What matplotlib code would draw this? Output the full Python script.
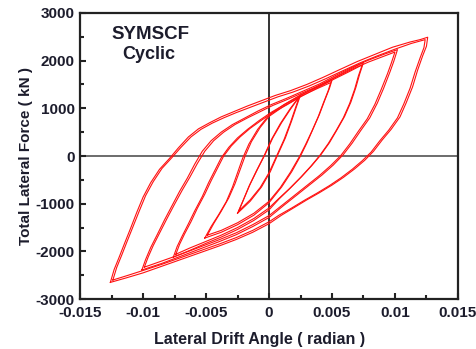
import numpy as np
import matplotlib.pyplot as plt
from matplotlib.ticker import MultipleLocator

plt.rcParams['font.family'] = ['Liberation Sans', 'DejaVu Sans']
plt.rcParams['axes.unicode_minus'] = False

# Hysteresis loops, drift in mrad, force in kN.
# Each loop: upward branch from the negative peak, then downward branch back.
loop_a1 = [(-2.5, -1200), (-2.1, -960), (-1.6, -640), (-1.0, -310), (-0.4, 0),
           (0.2, 350), (0.9, 680), (1.7, 1000), (2.5, 1280),
           (2.2, 1050), (1.8, 740), (1.3, 380), (0.7, 30), (0.1, -330),
           (-0.6, -650), (-1.5, -950), (-2.5, -1200)]
loop_a2 = [(-2.4, -1150), (-2.0, -900), (-1.5, -590), (-0.9, -270), (-0.3, 40),
           (0.3, 380), (1.0, 700), (1.7, 980), (2.4, 1240),
           (2.1, 1010), (1.7, 700), (1.2, 350), (0.6, 0), (0.0, -350),
           (-0.7, -660), (-1.5, -920), (-2.4, -1150)]

loop_b1 = [(-5.1, -1720), (-4.6, -1480), (-4.0, -1230), (-3.4, -960), (-2.9, -650),
           (-2.5, -350), (-2.1, -50), (-1.6, 250), (-0.9, 560), (0.0, 860),
           (1.2, 1080), (2.5, 1280), (3.8, 1440), (5.0, 1590),
           (4.8, 1420), (4.4, 1150), (4.0, 870), (3.5, 570), (3.0, 270), (2.5, 0),
           (1.8, -330), (1.0, -650), (0.0, -980), (-1.2, -1240), (-2.5, -1440),
           (-3.8, -1600), (-5.1, -1720)]
loop_b2 = [(-4.9, -1660), (-4.4, -1420), (-3.8, -1160), (-3.2, -880), (-2.7, -580),
           (-2.3, -290), (-1.9, 0), (-1.4, 300), (-0.7, 600), (0.0, 830),
           (1.2, 1050), (2.5, 1250), (3.8, 1410), (4.9, 1540),
           (4.7, 1370), (4.3, 1100), (3.9, 820), (3.4, 520), (2.9, 240), (2.4, -20),
           (1.7, -340), (0.9, -660), (0.0, -950), (-1.2, -1200), (-2.5, -1400),
           (-3.8, -1560), (-4.9, -1660)]

loop_c1 = [(-7.6, -2120), (-7.3, -1900), (-6.9, -1680), (-6.4, -1420), (-5.9, -1150),
           (-5.3, -850), (-4.8, -560), (-4.3, -300), (-3.8, -40), (-3.2, 180),
           (-2.5, 380), (-1.7, 560), (-0.8, 740), (0.2, 920), (1.3, 1090),
           (2.5, 1270), (3.7, 1440), (5.0, 1620), (6.3, 1800), (7.5, 1960),
           (7.2, 1720), (6.9, 1440), (6.5, 1130), (6.0, 830), (5.4, 550), (4.8, 280),
           (4.1, 20), (3.4, -200), (2.6, -430), (1.7, -670), (0.8, -900), (0.0, -1130),
           (-1.2, -1350), (-2.5, -1540), (-3.8, -1700), (-5.0, -1830), (-6.3, -1980),
           (-7.6, -2120)]
loop_c2 = [(-7.4, -2060), (-7.1, -1850), (-6.7, -1630), (-6.2, -1380), (-5.7, -1100),
           (-5.1, -800), (-4.6, -520), (-4.1, -260), (-3.6, 0), (-3.0, 210),
           (-2.3, 400), (-1.5, 580), (-0.6, 750), (0.3, 910), (1.4, 1070),
           (2.5, 1240), (3.7, 1410), (5.0, 1590), (6.3, 1760), (7.4, 1910),
           (7.1, 1680), (6.8, 1400), (6.4, 1100), (5.9, 800), (5.3, 520), (4.7, 260),
           (4.0, 0), (3.3, -220), (2.5, -450), (1.6, -690), (0.7, -910), (0.0, -1090),
           (-1.2, -1310), (-2.5, -1500), (-3.8, -1660), (-5.0, -1790), (-6.3, -1930),
           (-7.4, -2060)]

loop_d1 = [(-10.1, -2390), (-9.8, -2170), (-9.4, -1920), (-8.9, -1660), (-8.3, -1340),
           (-7.7, -1040), (-7.1, -740), (-6.5, -470), (-5.9, -170), (-5.3, 100),
           (-4.6, 320), (-3.8, 500), (-2.9, 660), (-1.9, 800), (-0.9, 940),
           (0.2, 1080), (1.4, 1210), (2.7, 1360), (4.0, 1510), (5.3, 1690),
           (6.6, 1860), (7.9, 2010), (9.2, 2140), (10.2, 2230),
           (9.9, 1980), (9.6, 1760), (9.1, 1420), (8.6, 1110), (8.0, 800), (7.3, 540),
           (6.6, 270), (5.9, 30), (5.1, -190), (4.2, -400), (3.2, -610), (2.2, -820),
           (1.1, -1050), (0.0, -1290), (-1.3, -1480), (-2.6, -1650), (-4.0, -1800),
           (-5.5, -1950), (-7.0, -2100), (-8.5, -2250), (-10.1, -2390)]
loop_d2 = [(-9.9, -2330), (-9.6, -2120), (-9.2, -1880), (-8.7, -1620), (-8.1, -1310),
           (-7.5, -1010), (-6.9, -720), (-6.3, -450), (-5.7, -160), (-5.1, 100),
           (-4.4, 320), (-3.6, 500), (-2.7, 660), (-1.7, 800), (-0.7, 930),
           (0.3, 1060), (1.5, 1190), (2.7, 1330), (4.0, 1480), (5.3, 1650),
           (6.6, 1820), (7.9, 1970), (9.1, 2090), (10.0, 2180),
           (9.7, 1940), (9.4, 1720), (8.9, 1390), (8.4, 1080), (7.8, 780), (7.1, 520),
           (6.4, 250), (5.7, 10), (4.9, -200), (4.0, -410), (3.0, -620), (2.0, -830),
           (1.0, -1040), (0.0, -1250), (-1.3, -1440), (-2.6, -1610), (-4.0, -1760),
           (-5.5, -1910), (-7.0, -2060), (-8.5, -2200), (-9.9, -2330)]

loop_e1 = [(-12.6, -2650), (-12.3, -2380), (-11.9, -2120), (-11.5, -1850), (-11.0, -1520),
           (-10.5, -1180), (-10.0, -860), (-9.4, -560), (-8.7, -280), (-7.9, -50),
           (-7.2, 170), (-6.4, 400), (-5.6, 570), (-4.7, 700), (-3.8, 820),
           (-2.8, 930), (-1.7, 1050), (-0.6, 1160), (0.5, 1270), (1.7, 1370),
           (3.0, 1500), (4.3, 1650), (5.6, 1810), (7.0, 1980), (8.4, 2130),
           (9.8, 2280), (11.2, 2390), (12.0, 2440), (12.6, 2490),
           (12.5, 2300), (12.2, 2100), (11.8, 1800), (11.4, 1450), (10.9, 1120),
           (10.4, 820), (9.7, 560), (9.0, 340), (8.3, 100), (7.6, -90), (6.8, -270),
           (5.9, -450), (5.0, -610), (4.0, -770), (3.0, -920), (2.0, -1080),
           (1.0, -1240), (0.0, -1420), (-1.3, -1600), (-2.6, -1750), (-4.0, -1890),
           (-5.5, -2030), (-7.0, -2170), (-8.5, -2310), (-10.0, -2450), (-11.4, -2560),
           (-12.6, -2650)]
loop_e2 = [(-12.4, -2600), (-12.1, -2340), (-11.7, -2080), (-11.3, -1810), (-10.8, -1480),
           (-10.3, -1150), (-9.8, -830), (-9.2, -540), (-8.5, -260), (-7.7, -30),
           (-7.0, 180), (-6.2, 400), (-5.4, 560), (-4.5, 690), (-3.6, 800),
           (-2.6, 910), (-1.5, 1020), (-0.4, 1130), (0.7, 1240), (1.9, 1340),
           (3.2, 1470), (4.5, 1620), (5.8, 1780), (7.2, 1950), (8.6, 2100),
           (10.0, 2240), (11.3, 2360), (12.4, 2440),
           (12.3, 2270), (12.0, 2060), (11.6, 1760), (11.2, 1420), (10.7, 1090),
           (10.2, 800), (9.5, 540), (8.8, 320), (8.1, 80), (7.4, -100), (6.6, -280),
           (5.7, -460), (4.8, -620), (3.8, -780), (2.8, -930), (1.8, -1090),
           (0.8, -1240), (0.0, -1380), (-1.3, -1560), (-2.6, -1710), (-4.0, -1850),
           (-5.5, -1990), (-7.0, -2130), (-8.5, -2270), (-10.0, -2400), (-11.3, -2510),
           (-12.4, -2600)]

loops = [loop_a1, loop_a2, loop_b1, loop_b2, loop_c1, loop_c2,
         loop_d1, loop_d2, loop_e1, loop_e2]

x_ticks = [-0.015, -0.01, -0.005, 0, 0.005, 0.01, 0.015]
x_tick_labels = ["-0.015", "-0.01", "-0.005", "0", "0.005", "0.01", "0.015"]
y_ticks = [-3000, -2000, -1000, 0, 1000, 2000, 3000]

text_col = '#1c1c2c'

fig = plt.figure(figsize=(4.77, 3.49), dpi=100)
ax = fig.add_axes([0.168, 0.143, 0.792, 0.82])

# Zero lines.
ax.axhline(0, color='#444444', lw=1.1, zorder=1)
ax.axvline(0, color='#333333', lw=1.4, zorder=1)

for loop in loops:
    pts = np.array(loop)
    ax.plot(pts[:, 0] / 1000.0, pts[:, 1], color='#ff1010', lw=0.8, zorder=2)

ax.set_xlim(-0.015, 0.015)
ax.set_ylim(-3000, 3000)
ax.set_xticks(x_ticks)
ax.set_xticklabels(x_tick_labels)
ax.set_yticks(y_ticks)
ax.xaxis.set_minor_locator(MultipleLocator(0.0025))
ax.yaxis.set_minor_locator(MultipleLocator(500))
ax.tick_params(which='both', direction='in', top=False, right=False,
               width=1.5, colors='#222222', labelcolor=text_col)
ax.tick_params(which='major', length=4, labelsize=11, pad=4)
ax.tick_params(axis='x', which='major', pad=5)
ax.tick_params(which='minor', length=3)
for lab in ax.get_xticklabels() + ax.get_yticklabels():
    lab.set_fontweight('bold')

for sp in ax.spines.values():
    sp.set_linewidth(1.6)
    sp.set_color('#222222')

ax.set_xlabel("Lateral Drift Angle ( radian )", fontsize=11.5,
              fontweight='bold', color=text_col, labelpad=4)
ax.xaxis.set_label_coords(0.476, -0.115)
ax.set_ylabel("Total Lateral Force ( kN )", fontsize=11,
              fontweight='bold', color=text_col, labelpad=2)

ax.text(0.185, 0.923, "SYMSCF", transform=ax.transAxes, ha='center', va='center',
        fontsize=13.5, fontweight='bold', color=text_col)
ax.text(0.182, 0.853, "Cyclic", transform=ax.transAxes, ha='center', va='center',
        fontsize=13, fontweight='bold', color=text_col)

fig.savefig("out.png", dpi=100)
